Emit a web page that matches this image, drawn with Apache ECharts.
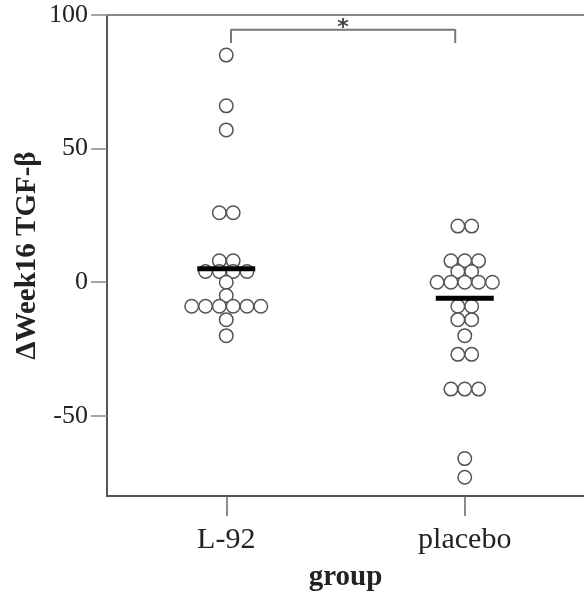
<!DOCTYPE html>
<html>
<head>
<meta charset="utf-8">
<script src="https://cdn.jsdelivr.net/npm/echarts@6/dist/echarts.min.js"></script>
<style>
  html, body { margin: 0; padding: 0; background: #fff; }
  #chart { width: 584px; height: 602px; }
</style>
</head>
<body>
<div id="chart"></div>
<script>
// ---- data ----
var groups = ['L-92', 'placebo'];
var l92Values = [85, 66, 57, 26, 26, 8, 8, 4, 4, 4, 4, 0, -5, -9, -9, -9, -9, -9, -9, -14, -20];
var placeboValues = [21, 21, 8, 8, 8, 4, 4, 0, 0, 0, 0, 0, -9, -9, -14, -14, -20, -27, -27, -40, -40, -40, -66, -73];
var medians = [5, -6];
var yTicks = [-50, 0, 50, 100];
var yName = 'ΔWeek16 TGF-β';
var xName = 'group';
var sigLabel = '*';

// ---- layout / style ----
var W = 584, H = 602;
var gridLeft = 107, gridRight = -6, gridTop = 15, gridBottom = 106;
var xMin = -0.5, xMax = 1.5;
var dotDiameterPx = 14;
var plotWidth = W - gridLeft - gridRight;
var pxPerUnit = plotWidth / (xMax - xMin);
var serif = '"Liberation Serif", "DejaVu Serif", serif';

// swarm: points sharing a value are laid out side by side, centred on the group
function swarm(values, gi) {
  var rows = {};
  var order = [];
  values.forEach(function (v) {
    if (!(v in rows)) { rows[v] = 0; order.push(v); }
    rows[v]++;
  });
  var out = [];
  order.forEach(function (v) {
    var n = rows[v];
    for (var i = 0; i < n; i++) {
      var off = (i - (n - 1) / 2) * dotDiameterPx / pxPerUnit;
      out.push([gi + off, v]);
    }
  });
  return out;
}

var bracketLeft = 0.02, bracketRight = 0.96, bracketY = 94.5, bracketDrop = 89.5;

var chart = echarts.init(document.getElementById('chart'), null, { renderer: 'canvas', width: W, height: H });
chart.setOption({
  animation: false,
  backgroundColor: '#fff',
  grid: { left: gridLeft, right: gridRight, top: gridTop, bottom: gridBottom, containLabel: false },
  xAxis: [
    {
      type: 'category',
      data: groups,
      position: 'bottom',
      boundaryGap: true,
      name: xName,
      nameLocation: 'middle',
      nameGap: 67,
      nameMoveOverlap: false,
      nameTextStyle: { fontFamily: serif, fontWeight: 'bold', fontSize: 29, color: '#222' },
      axisLine: { show: true, onZero: false, lineStyle: { color: '#555', width: 2 } },
      axisTick: { show: true, alignWithLabel: true, length: 20, lineStyle: { color: '#666', width: 1.5 } },
      axisLabel: { fontFamily: serif, fontSize: 30, color: '#222', margin: 29 },
      splitLine: { show: false }
    },
    {
      type: 'value',
      min: xMin,
      max: xMax,
      position: 'top',
      axisLine: { show: true, onZero: false, lineStyle: { color: '#888', width: 2 } },
      axisTick: { show: false },
      axisLabel: { show: false },
      splitLine: { show: false }
    }
  ],
  yAxis: {
    type: 'value',
    min: -80,
    max: 100,
    name: yName,
    nameLocation: 'middle',
    nameGap: 65,
    nameMoveOverlap: false,
    nameTextStyle: { fontFamily: serif, fontWeight: 'bold', fontSize: 29, color: '#222' },
    axisLine: { show: true, onZero: false, lineStyle: { color: '#555', width: 2 } },
    axisTick: { show: true, customValues: yTicks, length: 16, lineStyle: { color: '#888', width: 1.5 } },
    axisLabel: { customValues: yTicks, fontFamily: serif, fontSize: 26, color: '#222', margin: 19 },
    splitLine: { show: false }
  },
  series: [
    {
      type: 'scatter',
      xAxisIndex: 1,
      symbol: 'circle',
      symbolSize: 13.5,
      itemStyle: { color: '#fff', borderColor: '#555', borderWidth: 1.5, opacity: 1 },
      data: swarm(l92Values, 0),
      z: 2
    },
    {
      type: 'scatter',
      xAxisIndex: 1,
      symbol: 'circle',
      symbolSize: 13.5,
      itemStyle: { color: '#fff', borderColor: '#555', borderWidth: 1.5, opacity: 1 },
      data: swarm(placeboValues, 1),
      z: 2
    },
    {
      type: 'scatter',
      xAxisIndex: 1,
      symbol: 'rect',
      symbolSize: [58, 5],
      itemStyle: { color: '#000', opacity: 1 },
      data: medians.map(function (m, i) { return [i, m]; }),
      z: 3
    },
    {
      type: 'line',
      xAxisIndex: 1,
      symbol: 'none',
      lineStyle: { color: '#777', width: 2 },
      data: [[bracketLeft, bracketDrop], [bracketLeft, bracketY], [bracketRight, bracketY], [bracketRight, bracketDrop]],
      z: 1
    },
    {
      type: 'scatter',
      xAxisIndex: 1,
      symbolSize: 0,
      data: [[(bracketLeft + bracketRight) / 2, bracketY]],
      label: { show: true, position: 'top', distance: -10, formatter: sigLabel, fontFamily: '"DejaVu Sans", sans-serif', fontWeight: 'bold', fontSize: 22, color: '#111' },
      z: 4
    }
  ]
});
</script>
</body>
</html>
